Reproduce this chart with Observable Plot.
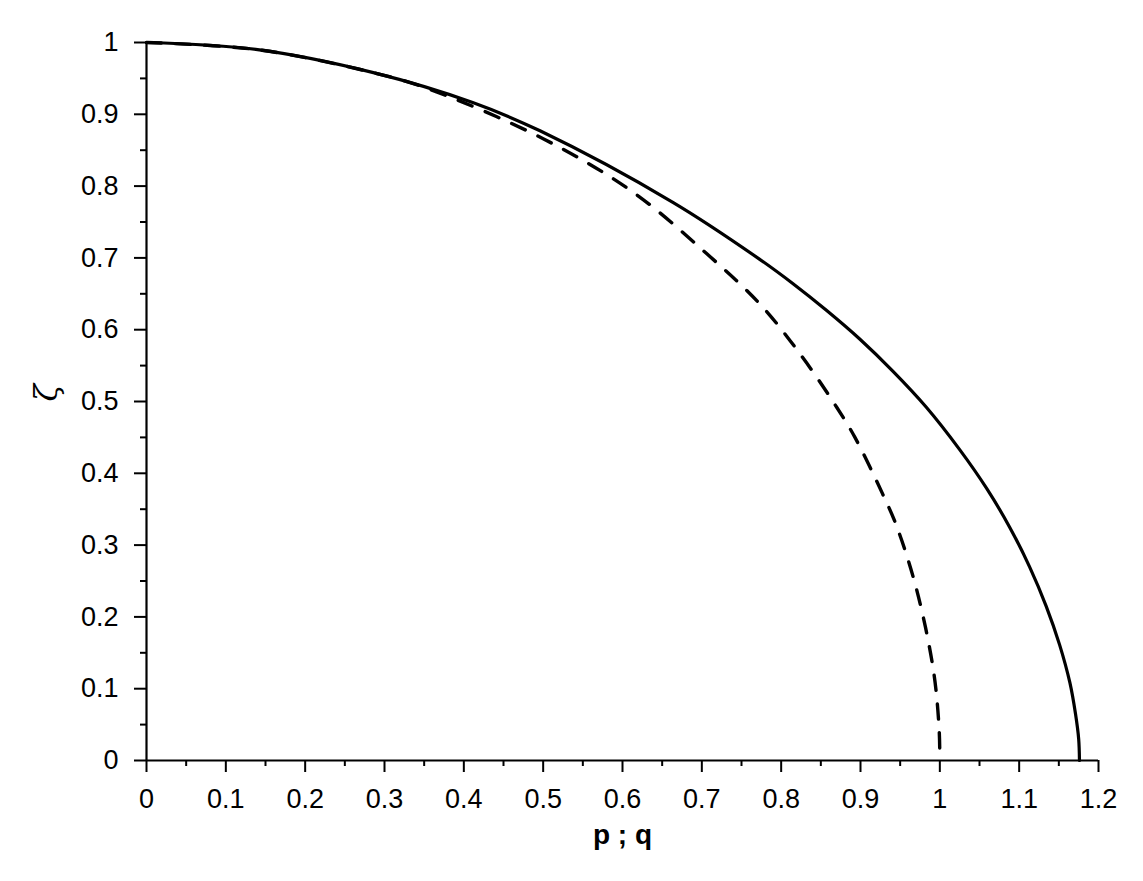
<!DOCTYPE html>
<html><head><meta charset="utf-8">
<script src="https://cdn.jsdelivr.net/npm/d3@7"></script>
<script src="https://cdn.jsdelivr.net/npm/@observablehq/plot@0.6"></script>
<style>body{margin:0;background:#fff}</style>
</head><body><div id="chart"></div>
<script>
// Solid curve
const solidX = [0, 0.14, 0.286, 0.412, 0.496, 0.664, 0.773, 0.815, 0.857, 0.899, 0.941, 0.983, 1.025, 1.059, 1.088, 1.113, 1.134, 1.151, 1.164, 1.171, 1.175, 1.176];
const solidY = [1, 0.99, 0.958, 0.916, 0.877, 0.777, 0.698, 0.664, 0.627, 0.587, 0.542, 0.492, 0.433, 0.379, 0.325, 0.270, 0.215, 0.161, 0.108, 0.065, 0.03, 0];
// Dashed curve
const dashedX = [0, 0.14, 0.286, 0.354, 0.5, 0.614, 0.706, 0.773, 0.824, 0.870, 0.893, 0.928, 0.946, 0.971, 0.992, 0.999, 1.0];
const dashedY = [1, 0.99, 0.958, 0.936, 0.866, 0.791, 0.706, 0.636, 0.566, 0.492, 0.450, 0.371, 0.325, 0.237, 0.125, 0.046, 0];

const xTicks = [0, 0.1, 0.2, 0.3, 0.4, 0.5, 0.6, 0.7, 0.8, 0.9, 1, 1.1, 1.2];
const xTickLabels = ["0", "0.1", "0.2", "0.3", "0.4", "0.5", "0.6", "0.7", "0.8", "0.9", "1", "1.1", "1.2"];
const xMinorTicks = [0.05, 0.15, 0.25, 0.35, 0.45, 0.55, 0.65, 0.75, 0.85, 0.95, 1.05, 1.15];
const yTicks = [0, 0.1, 0.2, 0.3, 0.4, 0.5, 0.6, 0.7, 0.8, 0.9, 1];
const yTickLabels = ["0", "0.1", "0.2", "0.3", "0.4", "0.5", "0.6", "0.7", "0.8", "0.9", "1"];
const yMinorTicks = [0.05, 0.15, 0.25, 0.35, 0.45, 0.55, 0.65, 0.75, 0.85, 0.95];
const xLabel = "p ; q";
const yLabel = "ζ";

const solid = solidX.map((x, i) => ({x, y: solidY[i]}));
const dashed = dashedX.map((x, i) => ({x, y: dashedY[i]}));

const chart = Plot.plot({
  width: 1143,
  height: 881,
  marginLeft: 146,
  marginRight: 45,
  marginTop: 42,
  marginBottom: 121,
  x: {domain: [0, 1.2]},
  y: {domain: [0, 1]},
  style: {fontFamily: "'Liberation Sans', Arial, sans-serif", color: "#000", background: "#fff"},
  marks: [
    Plot.axisX(xMinorTicks, {tickSize: 6, strokeWidth: 2, tickFormat: () => "", label: null}),
    Plot.axisY(yMinorTicks, {tickSize: 6, strokeWidth: 2, tickFormat: () => "", label: null}),
    Plot.axisX(xTicks, {tickSize: 12, tickPadding: 16, strokeWidth: 2, fontSize: 27,
      tickFormat: d => xTickLabels[xTicks.indexOf(d)], label: null}),
    Plot.axisY(yTicks, {tickSize: 12, tickPadding: 16, strokeWidth: 2, fontSize: 27,
      tickFormat: d => yTickLabels[yTicks.indexOf(d)], label: null}),
    Plot.ruleY([0], {strokeWidth: 2.2}),
    Plot.ruleX([0], {strokeWidth: 2.2}),
    Plot.line(dashed, {x: "x", y: "y", stroke: "#000", strokeWidth: 3.4, strokeDasharray: "15,14", curve: "catmull-rom"}),
    Plot.line(solid, {x: "x", y: "y", stroke: "#000", strokeWidth: 3.2, curve: "catmull-rom"}),
    Plot.text([xLabel], {frameAnchor: "bottom", dy: 83, text: d => d, fontSize: 28, fontWeight: "bold"}),
    Plot.text([yLabel], {frameAnchor: "left", dx: -100, rotate: -90, text: d => d, fontSize: 32, fontStyle: "italic", fontFamily: "'DejaVu Serif', serif"})
  ]
});
document.getElementById("chart").appendChild(chart);
</script>
</body></html>
